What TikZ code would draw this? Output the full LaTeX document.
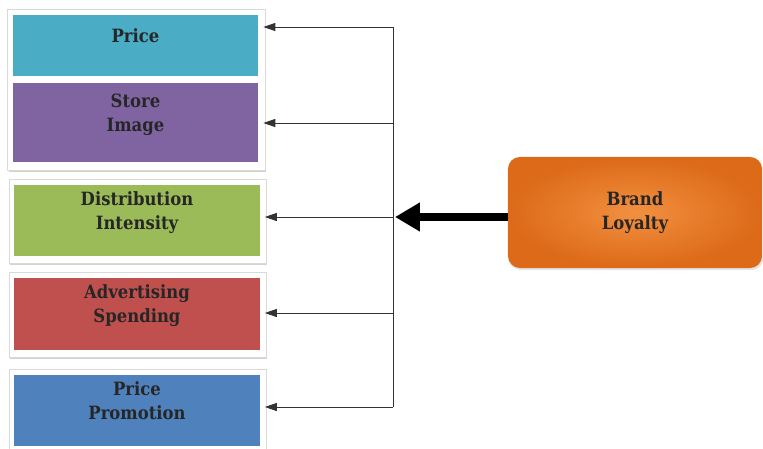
\documentclass[tikz,border=0pt]{standalone}
\usepackage{fontspec}
\setmainfont{DejaVu Serif Condensed}
\usepackage{tikz}
\usetikzlibrary{arrows.meta,shadows,backgrounds}
\definecolor{pricecyan}{HTML}{4BACC6}
\definecolor{storepurple}{HTML}{8064A2}
\definecolor{distgreen}{HTML}{9BBB59}
\definecolor{advred}{HTML}{C0504D}
\definecolor{promoblue}{HTML}{4F81BD}
\definecolor{brandlight}{HTML}{F29040}
\definecolor{branddark}{HTML}{DC6A18}

\begin{document}
\begin{tikzpicture}[x=0.025cm,y=-0.025cm,
  catbox/.style={rectangle,minimum width=6.125cm,align=center,text depth=0.5cm,
    text=black!85,font=\bfseries\fontsize{13}{17}\selectfont},
  brandbox/.style={rectangle,rounded corners=0.3cm,minimum width=6.35cm,minimum height=2.775cm,
    align=center,inner color=brandlight,outer color=branddark,text=black!85,
    font=\bfseries\fontsize{13}{17}\selectfont,
    drop shadow={shadow xshift=1pt,shadow yshift=-1.5pt,fill=gray!40}},
  panel/.style={draw=gray!30,fill=white,drop shadow={shadow xshift=0.8pt,shadow yshift=-1.5pt,fill=gray!70}},
  link/.style={draw=black!80,line width=0.7pt},
  thinarrow/.style={link,shorten >=0.125cm,-{Triangle[length=0.3cm,width=0.2cm]}},
  mainarrow/.style={draw=black,line width=5pt,-{Triangle[length=0.62cm,width=0.68cm]}}]
\useasboundingbox (0,0) rectangle (763,448);

% left column
\node[catbox,fill=pricecyan,minimum height=1.525cm] (price) at (135.5,45.5) {Price};
\node[catbox,fill=storepurple,minimum height=1.975cm] (store) at (135.5,122.5) {Store\\Image};
\node[catbox,fill=distgreen,minimum height=1.775cm] (distrib) at (137,220.5) {Distribution\\Intensity};
\node[catbox,fill=advred,minimum height=1.8cm] (advert) at (137,314) {Advertising\\Spending};
\node[catbox,fill=promoblue,minimum height=1.775cm] (promo) at (137,410.5) {Price\\Promotion};

\begin{scope}[on background layer]
\draw[panel] ([shift={(-5,-5)}]price.north west) rectangle ([shift={(7,8)}]store.south east);
\foreach \nm in {distrib,advert,promo}
  \draw[panel] ([shift={(-5,-5)}]\nm.north west) rectangle ([shift={(6,7)}]\nm.south east);
\end{scope}

% right side
\node[brandbox] (brand) at (635,212.5) {Brand\\Loyalty};

\coordinate (jtop) at (393,27);
\coordinate (jbottom) at (393,407);
\coordinate (jmid) at (393,217);
\draw[link] (jtop) -- (jbottom);
\foreach \nm/\yy in {price/27,store/123,distrib/217,advert/313,promo/407}{
  \coordinate (j\nm) at (393,\yy);
  \draw[thinarrow] (j\nm) -- (j\nm -| \nm.east);
}
\draw[mainarrow] (brand.west |- jmid) -- ([xshift=0.05cm]jmid);
\end{tikzpicture}
\end{document}
